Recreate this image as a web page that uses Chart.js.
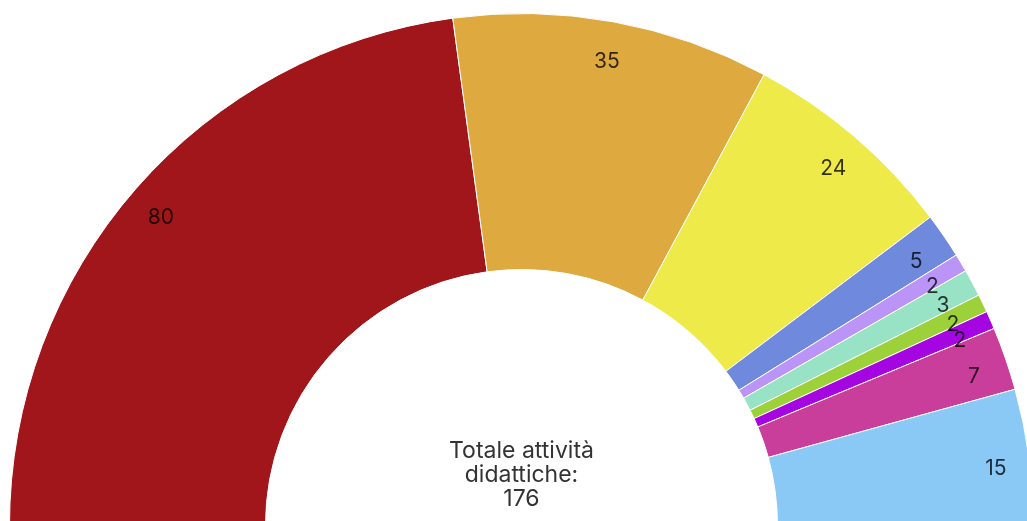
<!DOCTYPE html>
<html>
<head>
<meta charset="utf-8">
<script src="https://cdn.jsdelivr.net/npm/chart.js@4"></script>
<style>
    html, body { margin: 0; padding: 0; background: #fff; overflow: hidden; }
    body { width: 1027px; height: 521px; position: relative; }
    #wrap { position: absolute; left: 9px; top: 13px; width: 1025px; height: 513px; }
</style>
</head>
<body>
<div id="wrap"><canvas id="attivitaChart" width="1025" height="513"></canvas></div>
<script>
// values
const categories = ['A', 'B', 'C', 'D', 'E', 'F', 'G', 'H', 'I', 'J'];
const counts = [80, 35, 24, 5, 2, 3, 2, 2, 7, 15];
const colors = ['#A0161A', '#DEAA40', '#EEEA4A', '#6F8ADD', '#BB94F7',
                '#98E2C6', '#9DD13A', '#A505E0', '#C93D9B', '#8AC8F5'];
const centerLines = ['Totale attività', 'didattiche:', '176'];

const sliceLabels = {
    id: 'sliceLabels',
    afterDatasetsDraw(chart) {
        const ctx = chart.ctx;
        const meta = chart.getDatasetMeta(0);
        ctx.save();
        ctx.font = '21px Inter';
        ctx.fillStyle = 'rgba(0,0,0,0.78)';
        ctx.textAlign = 'center';
        ctx.textBaseline = 'middle';
        meta.data.forEach((arc, i) => {
            const p = arc.getProps(['x', 'y', 'startAngle', 'endAngle', 'innerRadius', 'outerRadius']);
            const mid = (p.startAngle + p.endAngle) / 2;
            const r = p.innerRadius + (p.outerRadius - p.innerRadius) * 0.87;
            ctx.fillText(String(counts[i]), p.x + Math.cos(mid) * r, p.y + Math.sin(mid) * r + 7);
        });

        // text inside the hole
        const a = meta.data[0];
        ctx.font = '23px Inter';
        ctx.fillStyle = '#333';
        centerLines.forEach((line, i) => {
            ctx.fillText(line, a.x, a.y - 74 + i * 24);
        });
        ctx.restore();
    }
};

const ctx = document.getElementById('attivitaChart').getContext('2d');
new Chart(ctx, {
    type: 'doughnut',
    data: {
        labels: categories,
        datasets: [{
            data: counts,
            backgroundColor: colors,
            borderColor: '#fff',
            borderWidth: 1,
        }]
    },
    options: {
        responsive: false,
        animation: false,
        rotation: -90,
        circumference: 180,
        cutout: '50%',
        layout: { padding: 0 },
        plugins: {
            legend: { display: false },
            tooltip: { enabled: false }
        }
    },
    plugins: [sliceLabels]
});
</script>
</body>
</html>
